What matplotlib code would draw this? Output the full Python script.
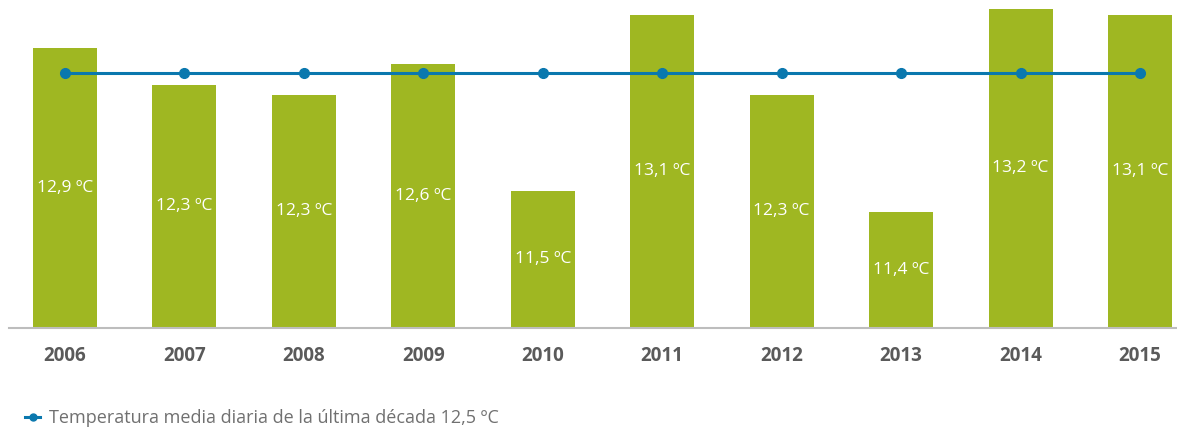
import matplotlib
matplotlib.use("Agg")
import matplotlib.pyplot as plt
from matplotlib.lines import Line2D

years = ["2006", "2007", "2008", "2009", "2010", "2011", "2012", "2013", "2014", "2015"]
bar_values = [12.86, 12.53, 12.44, 12.72, 11.59, 13.15, 12.44, 11.40, 13.20, 13.15]
bar_labels = ["12,9 ºC", "12,3 ºC", "12,3 ºC", "12,6 ºC", "11,5 ºC",
              "13,1 ºC", "12,3 ºC", "11,4 ºC", "13,2 ºC", "13,1 ºC"]
decade_mean_pos = 12.64
legend_label = "Temperatura media diaria de la última década 12,5 ºC"

GREEN = "#9fb722"
BLUE = "#0a78ae"
FONT = ["Open Sans", "DejaVu Sans"]

W, H = 1177, 428
fig = plt.figure(figsize=(W / 100, H / 100), dpi=100)
ax = fig.add_axes([9 / W, 1 - 327.5 / H, 1 - 9 / W, 327.5 / H])

x = list(range(len(years)))
base = 10.38
ax.bar(x, [v - base for v in bar_values], bottom=base, width=0.536,
       color=GREEN, zorder=2)
ax.plot(x, [decade_mean_pos] * len(x), color=BLUE, lw=2.2, marker="o",
        markersize=7, zorder=3)

for xi, v, lab in zip(x, bar_values, bar_labels):
    ax.text(xi, (v + base) / 2, lab, ha="center", va="center", color="white",
            fontsize=12.5, family=FONT, zorder=4)

ax.set_xlim(-0.469, 9.31)
ax.set_ylim(base, base + 327.5 / 112.8)
for s in ["top", "right", "left"]:
    ax.spines[s].set_visible(False)
ax.spines["bottom"].set_color("#bdbdbd")
ax.spines["bottom"].set_linewidth(1.5)
ax.set_yticks([])
ax.set_xticks(x)
ax.set_xticklabels(years, fontsize=13.5, fontweight="bold", color="#5a5a5a",
                   family=FONT)
ax.tick_params(axis="x", length=0, pad=13)

handle = Line2D([], [], color=BLUE, lw=2.2, marker="o", markersize=5)
leg = fig.legend([handle], [legend_label], loc="center left",
                 bbox_to_anchor=(25 / W, 1 - 418 / H), frameon=False,
                 handlelength=0.85, handletextpad=0.5, borderaxespad=0,
                 borderpad=0, prop={"family": FONT, "size": 13})
for t in leg.get_texts():
    t.set_color("#707070")

fig.savefig("out.png", dpi=100)
